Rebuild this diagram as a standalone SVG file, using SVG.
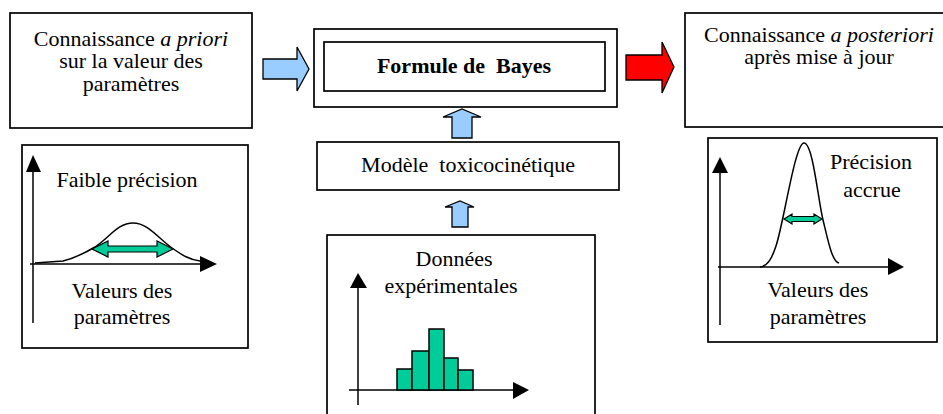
<svg xmlns="http://www.w3.org/2000/svg" width="943" height="414" viewBox="0 0 943 414">
<style>
.box{fill:#fff;stroke:#000;stroke-width:1.7}
.t{font-family:"Liberation Serif","Times New Roman",serif;font-size:22px;fill:#000;text-anchor:middle;white-space:pre}
.b{font-weight:bold}
.i{font-style:italic}
.ax{stroke:#000;stroke-width:1.5;fill:none}
.ah{fill:#000;stroke:none}
.curve{fill:none;stroke:#000;stroke-width:1.5}
.green{fill:#00CC99;stroke:#000;stroke-width:1.2}
.blue{fill:#99CCFF;stroke:#000;stroke-width:1.3}
.red{fill:#FF0000;stroke:#000;stroke-width:1.3}
</style>
<rect width="943" height="414" fill="#fff"/>

<g id="prior">
<rect class="box" x="10" y="13" width="242" height="115"/>
<text class="t" x="131" y="46">Connaissance <tspan class="i">a priori</tspan></text>
<text class="t" x="131" y="68">sur la valeur des</text>
<text class="t" x="131" y="91">paramètres</text>
</g>

<g id="bayes">
<rect class="box" x="314" y="29" width="303" height="78"/>
<rect class="box" x="324" y="42" width="281" height="49"/>
<text class="t b" x="464" y="73" xml:space="preserve">Formule de  Bayes</text>
</g>

<g id="posterior">
<rect class="box" x="685" y="13" width="300" height="114"/>
<text class="t" x="819" y="42">Connaissance <tspan class="i">a posteriori</tspan></text>
<text class="t" x="819" y="64">après mise à jour</text>
</g>

<g id="modele">
<rect class="box" x="317" y="142" width="302" height="48"/>
<text class="t" x="468" y="172" xml:space="preserve">Modèle  toxicocinétique</text>
</g>

<g id="prior-graph">
<rect class="box" x="22" y="145" width="226" height="203"/>
<line class="ax" x1="33" y1="170" x2="33" y2="323"/>
<polygon class="ah" points="33,155 26,172 41,172"/>
<line class="ax" x1="30" y1="264" x2="202" y2="264"/>
<polygon class="ah" points="217,264 200,256 200,272"/>
<path class="curve" d="M35,263 L63,261 C75,258 85,253 95,247 C110,237 118,223 133,223 C148,223 158,238 172,248 C182,255 190,260 200,261"/>
<polygon class="green" points="92,249 108,241 108,246 157,246 157,241 173,249 157,257 157,252 108,252 108,257"/>
<text class="t" x="127" y="187">Faible précision</text>
<text class="t" x="122" y="298">Valeurs des</text>
<text class="t" x="122" y="324">paramètres</text>
</g>

<g id="donnees">
<rect class="box" x="327" y="235" width="268" height="200"/>
<text class="t" x="454" y="266">Données</text>
<text class="t" x="451" y="293">expérimentales</text>
<line class="ax" x1="358" y1="286" x2="358" y2="405"/>
<polygon class="ah" points="358,273 350,288 367,288"/>
<line class="ax" x1="349" y1="390" x2="515" y2="390"/>
<polygon class="ah" points="529,390 513,382 513,399"/>
<g class="green" style="stroke-width:1.5">
<rect x="397" y="369" width="15" height="21"/>
<rect x="412" y="351" width="17" height="39"/>
<rect x="429" y="329" width="15" height="61"/>
<rect x="444" y="358" width="14" height="32"/>
<rect x="458" y="370" width="15" height="20"/>
</g>
</g>

<g id="posterior-graph">
<rect class="box" x="708" y="138" width="229" height="204"/>
<line class="ax" x1="720" y1="171" x2="720" y2="325"/>
<polygon class="ah" points="720,157 712,173 728,173"/>
<line class="ax" x1="718" y1="267" x2="890" y2="267"/>
<polygon class="ah" points="904,267 888,258 888,275"/>
<path class="curve" d="M760,267 C768,266 772,258 776,246 C784,222 795,143 804,143 C813,143 818,200 823,220 C828,240 832,262 839,263"/>
<polygon class="green" points="784,219 792,214 792,216.5 814,216.5 814,214 822,219 814,224 814,221.5 792,221.5 792,224"/>
<text class="t" x="871" y="169">Précision</text>
<text class="t" x="872" y="197">accrue</text>
<text class="t" x="818" y="297">Valeurs des</text>
<text class="t" x="818" y="324">paramètres</text>
</g>

<g id="connectors">
<polygon class="blue" points="263,59 297,59 297,47 309,69 297,91 297,79 263,79"/>
<polygon class="red" points="626,55 662,55 662,42 674,67 662,93 662,80 626,80"/>
<polygon class="blue" points="452,138 452,117 443,117 462,109 481,117 472,117 472,138"/>
<polygon class="blue" points="452,227 452,207 445,207 460,201 474,207 468,207 468,227"/>
</g>
</svg>
